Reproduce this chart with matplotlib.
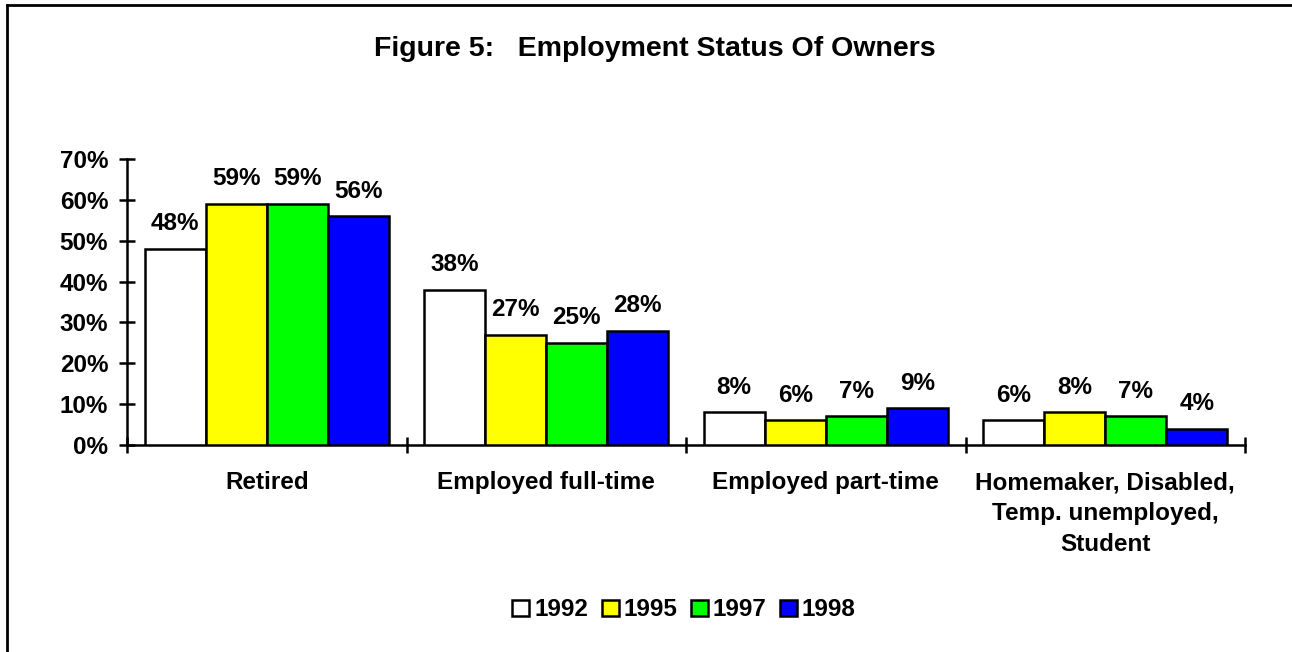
import matplotlib
matplotlib.use("Agg")
import matplotlib.pyplot as plt
from matplotlib.lines import Line2D
from matplotlib.patches import Patch
import numpy as np

plt.rcParams['font.family'] = ['Liberation Sans', 'DejaVu Sans']
plt.rcParams['font.weight'] = 'bold'

categories = ["Retired", "Employed full-time", "Employed part-time",
              "Homemaker, Disabled,\nTemp. unemployed,\nStudent"]
years = ["1992", "1995", "1997", "1998"]
values = {
    "1992": [48, 38, 8, 6],
    "1995": [59, 27, 6, 8],
    "1997": [59, 25, 7, 7],
    "1998": [56, 28, 9, 4],
}
colors = ["#FFFFFF", "#FFFF00", "#00FF00", "#0000FF"]
yticks = [0, 10, 20, 30, 40, 50, 60, 70]

FS = 17.5
W, H = 1292, 652
fig = plt.figure(figsize=(W / 100, H / 100), dpi=100)
ax = fig.add_axes([127 / W, 1 - 445 / H, (1245 - 127) / W, (445 - 159) / H])

n = len(years)
group_w = 0.873
bw = group_w / n
x = np.arange(len(categories))
for i, (yr, c) in enumerate(zip(years, colors)):
    offs = (i - (n - 1) / 2) * bw
    bars = ax.bar(x + offs, values[yr], width=bw, color=c, edgecolor="black",
                  linewidth=1.8, zorder=3)
    for b, v in zip(bars, values[yr]):
        ax.text(b.get_x() + b.get_width() / 2, v + 3.3, f"{v}%", ha="center",
                va="bottom", fontsize=FS, fontweight="bold")

ax.set_xlim(-0.5, len(categories) - 0.5)
ax.set_ylim(0, 70)
ax.set_yticks(yticks)
ax.set_yticklabels([f"{t}%" for t in yticks], fontsize=FS, fontweight="bold")
ax.tick_params(axis="y", direction="inout", length=11, width=1.8, pad=8)

ax.set_xticks(np.arange(len(categories) + 1) - 0.5)
ax.set_xticklabels([])
ax.tick_params(axis="x", direction="inout", length=11, width=1.8)
for xi, cat in zip(x, categories):
    ax.text(xi, -6.4, cat, ha="center", va="top", fontsize=FS,
            fontweight="bold", linespacing=1.43, transform=ax.transData)

for s in ["top", "right"]:
    ax.spines[s].set_visible(False)
for s in ["left", "bottom"]:
    ax.spines[s].set_linewidth(1.8)

fig.text(655 / W, 1 - 49 / H, "Figure 5:   Employment Status Of Owners",
         ha="center", va="center", fontsize=20.5, fontweight="bold")

handles = [Patch(facecolor=c, edgecolor="black", linewidth=1.8) for c in colors]
fig.legend(handles, years, loc="center", bbox_to_anchor=(684 / W, 1 - 610 / H),
           ncol=4, frameon=False, handlelength=0.7,
           handleheight=0.65, handletextpad=0.2, columnspacing=0.55,
           prop={"weight": "bold", "size": FS})

# outer frame (top and left visible)
fig.add_artist(Line2D([7 / W, 7 / W], [0, 1 - 5 / H], color="black",
                      linewidth=2, transform=fig.transFigure))
fig.add_artist(Line2D([7 / W, 1], [1 - 5 / H, 1 - 5 / H], color="black",
                      linewidth=2, transform=fig.transFigure))

fig.savefig("out.png", dpi=100, facecolor="white")
